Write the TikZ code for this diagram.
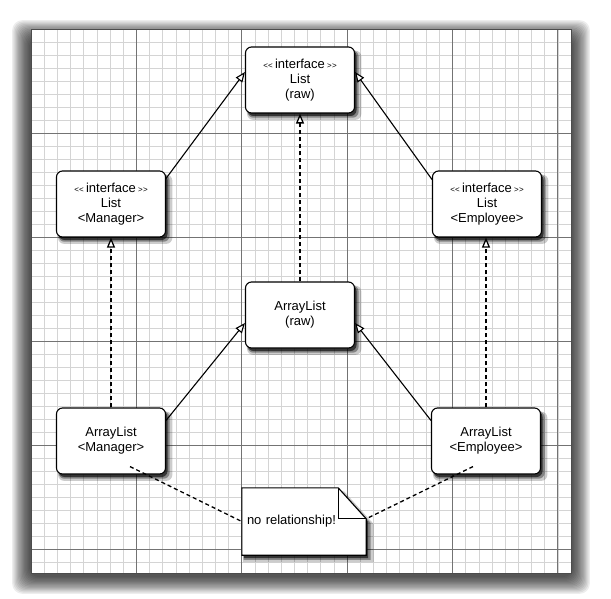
\documentclass[tikz,border=0pt]{standalone}
\usepackage{fontspec}
\setmainfont{Liberation Sans}
\usetikzlibrary{arrows.meta,shadows}
\pgfdeclarelayer{bg}
\pgfsetlayers{bg,main}
\newcommand{\stereo}[1]{{\fontsize{8}{8}\selectfont<\kern0.3pt<}\,#1\,{\fontsize{8}{8}\selectfont>\kern0.3pt>}}
\begin{document}
\begin{tikzpicture}[x=1pt,y=-1pt,>={Triangle[fill=white,length=10pt,width=8pt]},
    minor/.style={black!17,line width=0.55pt},
    major/.style={black!55,line width=0.7pt},
    shade/.style={general shadow={fill=black,opacity=0.2,shadow xshift=4pt,shadow yshift=-5pt,shadow scale=1.05},
        general shadow={fill=black,opacity=0.35,shadow xshift=3pt,shadow yshift=-4pt,shadow scale=1.02},
        general shadow={fill=black,opacity=0.6,shadow xshift=2pt,shadow yshift=-3pt}},
    cls/.style={draw,line width=1.1pt,fill=white,rounded corners=6pt,minimum width=109pt,minimum height=66pt,
        align=center,inner sep=2pt,font=\fontsize{13}{15}\selectfont,shade},
    notebox/.style={text width=114pt,minimum height=67pt,inner xsep=5pt,align=left,font=\fontsize{13}{15}\selectfont},
    inh/.style={->,line width=1.1pt},
    impl/.style={->,line width=1.3pt,dash pattern=on 4pt off 3pt},
    rel/.style={line width=1.3pt,dash pattern=on 4pt off 3pt}]
    \useasboundingbox (0,0) rectangle (611,599);
    \begin{pgfonlayer}{bg}
        % soft shadow of the sheet
        \foreach \k in {0,...,14}
            \fill[black,opacity=0.07,rounded corners=10pt] (29-1.2*\k,37-1.2*\k) rectangle (573+1.2*\k,577+1.2*\k);
        \fill[white] (31,29) rectangle (571,573);
        \foreach \i in {0,...,41} \draw[minor] (31+13.17*\i,29) -- ++(0,544);
        \foreach \j in {0,...,41} \draw[minor] (31,29+13*\j) -- ++(540,0);
        \foreach \i in {1,...,5} \draw[major] (31+105.36*\i,29) -- ++(0,544);
        \foreach \j in {1,...,5} \draw[major] (31,29+104*\j) -- ++(540,0);
        \draw[black!70,line width=0.8pt] (31,29) rectangle (571,573);
    \end{pgfonlayer}
    \node[cls] (lr) at (300,80) {\stereo{interface}\\List\\(raw)};
    \node[cls] (lm) at (111,204) {\stereo{interface}\\List\\<Manager>};
    \node[cls] (le) at (487,204) {\stereo{interface}\\List\\<Employee>};
    \node[cls] (ar) at (300,315) {ArrayList\\(raw)};
    \node[cls] (am) at (111,441) {ArrayList\\<Manager>};
    \node[cls] (ae) at (486,441) {ArrayList\\<Employee>};
    \node[notebox] (note) at (304,521.5) {no relationship!};
    \begin{pgfonlayer}{bg}
        \draw[line width=1.1pt,fill=white,shade] (note.north west) -- ([xshift=-28pt]note.north east)
            -- ([yshift=-31pt]note.north east) -- (note.south east) -- (note.south west) -- cycle;
        \draw[line width=1.1pt] ([xshift=-28pt]note.north east) |- ([yshift=-31pt]note.north east);
    \end{pgfonlayer}
    \draw[inh] ([yshift=-8pt]lm.north east) -- ([yshift=8pt]lr.west);
    \draw[inh] ([yshift=-9pt]le.north west) -- ([yshift=8pt]lr.east);
    \draw[inh] ([yshift=-13pt]am.north east) -- ([yshift=-8pt]ar.west);
    \draw[inh] ([yshift=-13pt]ae.north west) -- ([yshift=-8pt]ar.east);
    \draw[impl] (ar.north) -- (lr.south);
    \draw[impl] (am.north) -- (am.north |- lm.south);
    \draw[impl] (ae.north) -- (ae.north |- le.south);
    \draw[rel] ([xshift=19pt,yshift=8pt]am.south) -- (note.west);
    \draw[rel] ([xshift=-13pt,yshift=8pt]ae.south) -- ([yshift=-31pt]note.north east);
\end{tikzpicture}
\end{document}
